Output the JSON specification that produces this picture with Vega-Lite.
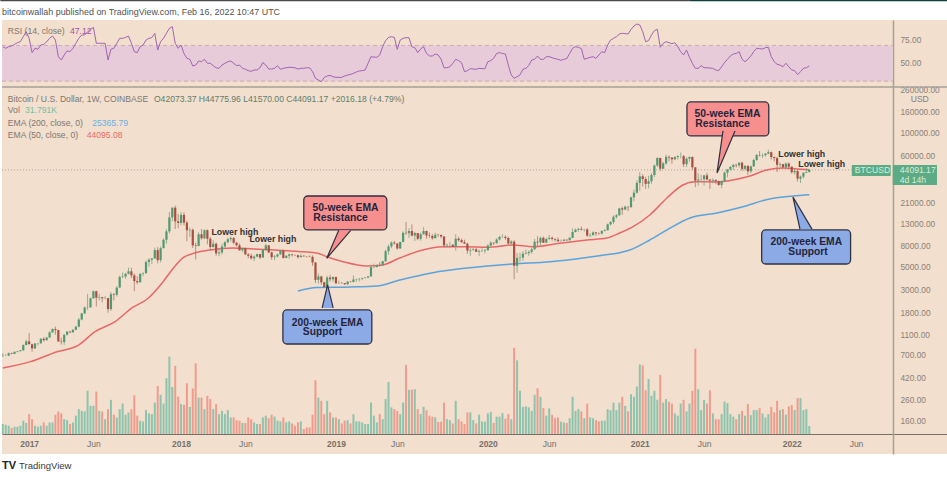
{
"$schema":"https://vega.github.io/schema/vega-lite/v6.json",
"width":945,"height":434,
"autosize":{"type":"none"},
"padding":{"left":2,"top":20,"right":0,"bottom":23},
"background":"#ffffff",
"view":{"fill":"#f2dfcd","stroke":null},
"config":{"font":"Liberation Sans","axis":{"grid":false,"ticks":false,"title":null}},
"datasets":{
"candles":[
{"d":"2016-10-31","o":700,"h":745,"l":680,"c":703,"v":40,"r":68.6},
{"d":"2016-11-07","o":703,"h":725,"l":695,"c":703,"v":37,"r":66.8},
{"d":"2016-11-14","o":703,"h":755,"l":695,"c":740,"v":33,"r":68.6},
{"d":"2016-11-21","o":740,"h":752,"l":725,"c":730,"v":24,"r":69.4},
{"d":"2016-11-28","o":730,"h":770,"l":725,"c":765,"v":29,"r":71.2},
{"d":"2016-12-05","o":765,"h":780,"l":755,"c":775,"v":29,"r":73.1},
{"d":"2016-12-12","o":775,"h":795,"l":770,"c":790,"v":33,"r":74.2},
{"d":"2016-12-19","o":790,"h":900,"l":785,"c":890,"v":53,"r":79.8},
{"d":"2016-12-26","o":890,"h":1000,"l":885,"c":965,"v":44,"r":85.4},
{"d":"2017-01-02","o":965,"h":1160,"l":950,"c":905,"v":79,"r":78},
{"d":"2017-01-09","o":905,"h":915,"l":765,"c":825,"v":59,"r":62},
{"d":"2017-01-16","o":825,"h":930,"l":820,"c":920,"v":33,"r":66.8},
{"d":"2017-01-23","o":920,"h":935,"l":880,"c":925,"v":29,"r":65.7},
{"d":"2017-01-30","o":925,"h":1040,"l":915,"c":1020,"v":33,"r":70.5},
{"d":"2017-02-06","o":1020,"h":1060,"l":960,"c":990,"v":46,"r":71.2},
{"d":"2017-02-13","o":990,"h":1065,"l":985,"c":1050,"v":33,"r":74},
{"d":"2017-02-20","o":1050,"h":1210,"l":1050,"c":1180,"v":46,"r":78},
{"d":"2017-02-27","o":1180,"h":1290,"l":1160,"c":1270,"v":46,"r":80.6},
{"d":"2017-03-06","o":1270,"h":1340,"l":1120,"c":1240,"v":77,"r":76},
{"d":"2017-03-13","o":1240,"h":1250,"l":1000,"c":960,"v":90,"r":57.4},
{"d":"2017-03-20","o":960,"h":1050,"l":900,"c":950,"v":82,"r":53.7},
{"d":"2017-03-27","o":950,"h":1125,"l":890,"c":1120,"v":59,"r":59.3},
{"d":"2017-04-03","o":1120,"h":1210,"l":1100,"c":1200,"v":55,"r":64},
{"d":"2017-04-10","o":1200,"h":1215,"l":1160,"c":1180,"v":40,"r":63},
{"d":"2017-04-17","o":1180,"h":1265,"l":1175,"c":1250,"v":46,"r":66.8},
{"d":"2017-04-24","o":1250,"h":1350,"l":1240,"c":1340,"v":73,"r":72.4},
{"d":"2017-05-01","o":1340,"h":1620,"l":1320,"c":1570,"v":99,"r":78},
{"d":"2017-05-08","o":1570,"h":1820,"l":1540,"c":1800,"v":92,"r":81.7},
{"d":"2017-05-15","o":1800,"h":2100,"l":1770,"c":2050,"v":90,"r":81.7},
{"d":"2017-05-22","o":2050,"h":2780,"l":1950,"c":2060,"v":172,"r":85.4},
{"d":"2017-05-29","o":2060,"h":2560,"l":2050,"c":2520,"v":112,"r":88},
{"d":"2017-06-05","o":2520,"h":3000,"l":2500,"c":2950,"v":112,"r":90.3},
{"d":"2017-06-12","o":2950,"h":2990,"l":2100,"c":2550,"v":169,"r":72.4},
{"d":"2017-06-19","o":2550,"h":2780,"l":2400,"c":2580,"v":92,"r":72.4},
{"d":"2017-06-26","o":2580,"h":2600,"l":2300,"c":2520,"v":90,"r":72.4},
{"d":"2017-07-03","o":2520,"h":2650,"l":2480,"c":2530,"v":59,"r":72.4},
{"d":"2017-07-10","o":2530,"h":2540,"l":1830,"c":1980,"v":99,"r":53.7},
{"d":"2017-07-17","o":1980,"h":2900,"l":1900,"c":2760,"v":136,"r":65.7},
{"d":"2017-07-24","o":2760,"h":2830,"l":2400,"c":2730,"v":77,"r":66.8},
{"d":"2017-07-31","o":2730,"h":3300,"l":2620,"c":3200,"v":66,"r":72.4},
{"d":"2017-08-07","o":3200,"h":4190,"l":3200,"c":4050,"v":99,"r":78},
{"d":"2017-08-14","o":4050,"h":4480,"l":3950,"c":4090,"v":121,"r":78},
{"d":"2017-08-21","o":4090,"h":4450,"l":3900,"c":4350,"v":77,"r":79},
{"d":"2017-08-28","o":4350,"h":5000,"l":4300,"c":4600,"v":86,"r":80.6},
{"d":"2017-09-04","o":4600,"h":4980,"l":3950,"c":4200,"v":99,"r":72.4},
{"d":"2017-09-11","o":4200,"h":4380,"l":2950,"c":3700,"v":154,"r":63},
{"d":"2017-09-18","o":3700,"h":4120,"l":3450,"c":3600,"v":73,"r":62},
{"d":"2017-09-25","o":3600,"h":4400,"l":3600,"c":4350,"v":53,"r":68.6},
{"d":"2017-10-02","o":4350,"h":4500,"l":4150,"c":4400,"v":50,"r":70.5},
{"d":"2017-10-09","o":4400,"h":5860,"l":4400,"c":5650,"v":95,"r":76},
{"d":"2017-10-16","o":5650,"h":6170,"l":5100,"c":5950,"v":82,"r":78},
{"d":"2017-10-23","o":5950,"h":6180,"l":5400,"c":6130,"v":79,"r":78.7},
{"d":"2017-10-30","o":6130,"h":7800,"l":6050,"c":7380,"v":125,"r":83.6},
{"d":"2017-11-06","o":7380,"h":7880,"l":5500,"c":5900,"v":191,"r":64.9},
{"d":"2017-11-13","o":5900,"h":8000,"l":5600,"c":7700,"v":156,"r":74.2},
{"d":"2017-11-20","o":7700,"h":9600,"l":7700,"c":9280,"v":121,"r":78},
{"d":"2017-11-27","o":9280,"h":11800,"l":8500,"c":11200,"v":222,"r":83.6},
{"d":"2017-12-04","o":11200,"h":17200,"l":10700,"c":15300,"v":308,"r":89.2},
{"d":"2017-12-11","o":15300,"h":19000,"l":14000,"c":19000,"v":187,"r":91},
{"d":"2017-12-18","o":19000,"h":19891,"l":11800,"c":14000,"v":271,"r":72.4},
{"d":"2017-12-25","o":14000,"h":16500,"l":12000,"c":13500,"v":149,"r":66.8},
{"d":"2018-01-01","o":13500,"h":17250,"l":12800,"c":16200,"v":119,"r":70.5},
{"d":"2018-01-08","o":16200,"h":17100,"l":12800,"c":13600,"v":116,"r":61},
{"d":"2018-01-15","o":13600,"h":14200,"l":9000,"c":11500,"v":202,"r":55.6},
{"d":"2018-01-22","o":11500,"h":12200,"l":9900,"c":11600,"v":108,"r":54.5},
{"d":"2018-01-29","o":11600,"h":11950,"l":7750,"c":8200,"v":181,"r":47},
{"d":"2018-02-05","o":8200,"h":8700,"l":6000,"c":8100,"v":281,"r":48},
{"d":"2018-02-12","o":8100,"h":11000,"l":8000,"c":10500,"v":145,"r":52.6},
{"d":"2018-02-19","o":10500,"h":11800,"l":9300,"c":9600,"v":145,"r":51.8},
{"d":"2018-02-26","o":9600,"h":11700,"l":9400,"c":11500,"v":99,"r":54.5},
{"d":"2018-03-05","o":11500,"h":11700,"l":8400,"c":9500,"v":152,"r":50},
{"d":"2018-03-12","o":9500,"h":9900,"l":7300,"c":7900,"v":139,"r":50},
{"d":"2018-03-19","o":7900,"h":9200,"l":7800,"c":8500,"v":99,"r":47.4},
{"d":"2018-03-26","o":8500,"h":8750,"l":6500,"c":6850,"v":119,"r":45},
{"d":"2018-04-02","o":6850,"h":7750,"l":6430,"c":7000,"v":79,"r":44.4},
{"d":"2018-04-09","o":7000,"h":8500,"l":6700,"c":8000,"v":92,"r":48},
{"d":"2018-04-16","o":8000,"h":9000,"l":7800,"c":8800,"v":79,"r":50},
{"d":"2018-04-23","o":8800,"h":9750,"l":8600,"c":9400,"v":95,"r":51.8},
{"d":"2018-04-30","o":9400,"h":9990,"l":8900,"c":9650,"v":66,"r":52.6},
{"d":"2018-05-07","o":9650,"h":9900,"l":8400,"c":8700,"v":66,"r":50},
{"d":"2018-05-14","o":8700,"h":8850,"l":8000,"c":8200,"v":55,"r":47.4},
{"d":"2018-05-21","o":8200,"h":8550,"l":7300,"c":7350,"v":53,"r":48},
{"d":"2018-05-28","o":7350,"h":7800,"l":7050,"c":7700,"v":44,"r":44.4},
{"d":"2018-06-04","o":7700,"h":7750,"l":6600,"c":6700,"v":44,"r":43.3},
{"d":"2018-06-11","o":6700,"h":6900,"l":6150,"c":6500,"v":66,"r":41.8},
{"d":"2018-06-18","o":6500,"h":6820,"l":5950,"c":6150,"v":59,"r":41},
{"d":"2018-06-25","o":6150,"h":6550,"l":5780,"c":6380,"v":46,"r":42.5},
{"d":"2018-07-02","o":6380,"h":6800,"l":6300,"c":6750,"v":40,"r":42.5},
{"d":"2018-07-09","o":6750,"h":6800,"l":6050,"c":6250,"v":40,"r":45},
{"d":"2018-07-16","o":6250,"h":7500,"l":6200,"c":7400,"v":66,"r":50.7},
{"d":"2018-07-23","o":7400,"h":8500,"l":7300,"c":8200,"v":73,"r":48},
{"d":"2018-07-30","o":8200,"h":8280,"l":6900,"c":7000,"v":63,"r":43.6},
{"d":"2018-08-06","o":7000,"h":7150,"l":5950,"c":6300,"v":77,"r":43.6},
{"d":"2018-08-13","o":6300,"h":6600,"l":5900,"c":6400,"v":69,"r":44.4},
{"d":"2018-08-20","o":6400,"h":6800,"l":6250,"c":6700,"v":53,"r":47.4},
{"d":"2018-08-27","o":6700,"h":7400,"l":6650,"c":7300,"v":50,"r":43.3},
{"d":"2018-09-03","o":7300,"h":7420,"l":6100,"c":6200,"v":66,"r":44.4},
{"d":"2018-09-10","o":6200,"h":6600,"l":6150,"c":6500,"v":46,"r":45},
{"d":"2018-09-17","o":6500,"h":6850,"l":6100,"c":6700,"v":50,"r":45.5},
{"d":"2018-09-24","o":6700,"h":6800,"l":6400,"c":6600,"v":42,"r":45.5},
{"d":"2018-10-01","o":6600,"h":6680,"l":6450,"c":6580,"v":33,"r":45},
{"d":"2018-10-08","o":6580,"h":6680,"l":6100,"c":6300,"v":46,"r":43.6},
{"d":"2018-10-15","o":6300,"h":6780,"l":6300,"c":6500,"v":50,"r":44.4},
{"d":"2018-10-22","o":6500,"h":6600,"l":6400,"c":6420,"v":20,"r":44.4},
{"d":"2018-10-29","o":6420,"h":6480,"l":6250,"c":6400,"v":26,"r":45},
{"d":"2018-11-05","o":6400,"h":6550,"l":6300,"c":6350,"v":26,"r":45},
{"d":"2018-11-12","o":6350,"h":6560,"l":5200,"c":5600,"v":77,"r":40.6},
{"d":"2018-11-19","o":5600,"h":5650,"l":3550,"c":3800,"v":214,"r":33.2},
{"d":"2018-11-26","o":3800,"h":4380,"l":3480,"c":4100,"v":145,"r":31.3},
{"d":"2018-12-03","o":4100,"h":4150,"l":3400,"c":3600,"v":132,"r":29.4},
{"d":"2018-12-10","o":3600,"h":3650,"l":3230,"c":3230,"v":79,"r":34.3},
{"d":"2018-12-17","o":3230,"h":4150,"l":3230,"c":4000,"v":132,"r":35.8},
{"d":"2018-12-24","o":4000,"h":4250,"l":3650,"c":3850,"v":86,"r":36.5},
{"d":"2018-12-31","o":3850,"h":4100,"l":3650,"c":4050,"v":66,"r":35},
{"d":"2019-01-07","o":4050,"h":4100,"l":3450,"c":3530,"v":66,"r":34.3},
{"d":"2019-01-14","o":3530,"h":3730,"l":3480,"c":3550,"v":59,"r":34.3},
{"d":"2019-01-21","o":3550,"h":3620,"l":3500,"c":3530,"v":42,"r":34.3},
{"d":"2019-01-28","o":3530,"h":3550,"l":3380,"c":3450,"v":53,"r":35.8},
{"d":"2019-02-04","o":3450,"h":3700,"l":3380,"c":3650,"v":55,"r":36.9},
{"d":"2019-02-11","o":3650,"h":3700,"l":3580,"c":3620,"v":42,"r":37.6},
{"d":"2019-02-18","o":3620,"h":4200,"l":3600,"c":3830,"v":79,"r":38.8},
{"d":"2019-02-25","o":3830,"h":3900,"l":3650,"c":3860,"v":50,"r":40.3},
{"d":"2019-03-04","o":3860,"h":3950,"l":3670,"c":3900,"v":50,"r":41.4},
{"d":"2019-03-11","o":3900,"h":4000,"l":3770,"c":3950,"v":46,"r":41.8},
{"d":"2019-03-18","o":3950,"h":4050,"l":3950,"c":4000,"v":40,"r":42.5},
{"d":"2019-03-25","o":4000,"h":4150,"l":3950,"c":4100,"v":40,"r":50},
{"d":"2019-04-01","o":4100,"h":5350,"l":4100,"c":5050,"v":125,"r":57.4},
{"d":"2019-04-08","o":5050,"h":5450,"l":4950,"c":5060,"v":73,"r":57},
{"d":"2019-04-15","o":5060,"h":5350,"l":5020,"c":5270,"v":46,"r":56.7},
{"d":"2019-04-22","o":5270,"h":5650,"l":5100,"c":5260,"v":79,"r":59.3},
{"d":"2019-04-29","o":5260,"h":5800,"l":5200,"c":5760,"v":59,"r":68.6},
{"d":"2019-05-06","o":5760,"h":7450,"l":5670,"c":7200,"v":139,"r":75.4},
{"d":"2019-05-13","o":7200,"h":8350,"l":6650,"c":8000,"v":207,"r":79},
{"d":"2019-05-20","o":8000,"h":8950,"l":7700,"c":8720,"v":106,"r":79.8},
{"d":"2019-05-27","o":8720,"h":9050,"l":8350,"c":8550,"v":99,"r":79},
{"d":"2019-06-03","o":8550,"h":8600,"l":7450,"c":7650,"v":92,"r":65.7},
{"d":"2019-06-10","o":7650,"h":8900,"l":7600,"c":8850,"v":79,"r":76},
{"d":"2019-06-17","o":8850,"h":11200,"l":8800,"c":10850,"v":125,"r":78},
{"d":"2019-06-24","o":10850,"h":13800,"l":10350,"c":10750,"v":275,"r":78.7},
{"d":"2019-07-01","o":10750,"h":12000,"l":9700,"c":11300,"v":176,"r":78.7},
{"d":"2019-07-08","o":11300,"h":13100,"l":10000,"c":10200,"v":176,"r":68.6},
{"d":"2019-07-15","o":10200,"h":11100,"l":9050,"c":10800,"v":178,"r":67.5},
{"d":"2019-07-22","o":10800,"h":10800,"l":9200,"c":9500,"v":99,"r":62},
{"d":"2019-07-29","o":9500,"h":10900,"l":9100,"c":10500,"v":79,"r":66},
{"d":"2019-08-05","o":10500,"h":12300,"l":10450,"c":11300,"v":108,"r":68.6},
{"d":"2019-08-12","o":11300,"h":11400,"l":9500,"c":10200,"v":95,"r":61},
{"d":"2019-08-19","o":10200,"h":10950,"l":9700,"c":10100,"v":73,"r":58.2},
{"d":"2019-08-26","o":10100,"h":10620,"l":9300,"c":9600,"v":69,"r":58.2},
{"d":"2019-09-02","o":9600,"h":10900,"l":9600,"c":10400,"v":66,"r":60.4},
{"d":"2019-09-09","o":10400,"h":10600,"l":9900,"c":10350,"v":48,"r":59.3},
{"d":"2019-09-16","o":10350,"h":10400,"l":9600,"c":10000,"v":49,"r":54.5},
{"d":"2019-09-23","o":10000,"h":10050,"l":7800,"c":8200,"v":125,"r":45},
{"d":"2019-09-30","o":8200,"h":8500,"l":7800,"c":8300,"v":59,"r":45},
{"d":"2019-10-07","o":8300,"h":8850,"l":7800,"c":8300,"v":55,"r":46.2},
{"d":"2019-10-14","o":8300,"h":8450,"l":7900,"c":7950,"v":42,"r":50},
{"d":"2019-10-21","o":7950,"h":10500,"l":7300,"c":9500,"v":132,"r":54.5},
{"d":"2019-10-28","o":9500,"h":9950,"l":8900,"c":9200,"v":59,"r":53},
{"d":"2019-11-04","o":9200,"h":9550,"l":8700,"c":8800,"v":50,"r":50.7},
{"d":"2019-11-11","o":8800,"h":9300,"l":8500,"c":8500,"v":40,"r":40.6},
{"d":"2019-11-18","o":8500,"h":8700,"l":6800,"c":7300,"v":86,"r":41.8},
{"d":"2019-11-25","o":7300,"h":7800,"l":6500,"c":7400,"v":86,"r":44},
{"d":"2019-12-02","o":7400,"h":7750,"l":7250,"c":7500,"v":55,"r":43.6},
{"d":"2019-12-09","o":7500,"h":7750,"l":7100,"c":7100,"v":42,"r":43.3},
{"d":"2019-12-16","o":7100,"h":7500,"l":6450,"c":7200,"v":77,"r":44.4},
{"d":"2019-12-23","o":7200,"h":7700,"l":7100,"c":7250,"v":50,"r":44},
{"d":"2019-12-30","o":7250,"h":7550,"l":6850,"c":7350,"v":49,"r":44},
{"d":"2020-01-06","o":7350,"h":8400,"l":7300,"c":8150,"v":82,"r":51.8},
{"d":"2020-01-13","o":8150,"h":9000,"l":8100,"c":8700,"v":88,"r":53},
{"d":"2020-01-20","o":8700,"h":8800,"l":8250,"c":8600,"v":44,"r":55.6},
{"d":"2020-01-27","o":8600,"h":9600,"l":8550,"c":9350,"v":69,"r":61},
{"d":"2020-02-03","o":9350,"h":10150,"l":9150,"c":9900,"v":69,"r":62},
{"d":"2020-02-10","o":9900,"h":10500,"l":9700,"c":9900,"v":83,"r":61},
{"d":"2020-02-17","o":9900,"h":10250,"l":9300,"c":9660,"v":61,"r":60.4},
{"d":"2020-02-24","o":9660,"h":9950,"l":8400,"c":8550,"v":79,"r":48},
{"d":"2020-03-02","o":8550,"h":9200,"l":8400,"c":8900,"v":59,"r":37},
{"d":"2020-03-09","o":8900,"h":9200,"l":3850,"c":5200,"v":343,"r":33.2},
{"d":"2020-03-16","o":5200,"h":6900,"l":4450,"c":6200,"v":293,"r":35},
{"d":"2020-03-23","o":6200,"h":6950,"l":5700,"c":6250,"v":172,"r":37},
{"d":"2020-03-30","o":6250,"h":7200,"l":5850,"c":6800,"v":108,"r":43.3},
{"d":"2020-04-06","o":6800,"h":7480,"l":6750,"c":6900,"v":110,"r":44.4},
{"d":"2020-04-13","o":6900,"h":7300,"l":6500,"c":7100,"v":106,"r":47.4},
{"d":"2020-04-20","o":7100,"h":7750,"l":6800,"c":7500,"v":92,"r":53.7},
{"d":"2020-04-27","o":7500,"h":9450,"l":7450,"c":8900,"v":156,"r":54.5},
{"d":"2020-05-04","o":8900,"h":10050,"l":8100,"c":8750,"v":182,"r":58.2},
{"d":"2020-05-11","o":8750,"h":9950,"l":8200,"c":9700,"v":148,"r":54.5},
{"d":"2020-05-18","o":9700,"h":10000,"l":8700,"c":8700,"v":103,"r":54.5},
{"d":"2020-05-25","o":8700,"h":9740,"l":8650,"c":9450,"v":73,"r":57.4},
{"d":"2020-06-01","o":9450,"h":10350,"l":9300,"c":9700,"v":102,"r":57.4},
{"d":"2020-06-08","o":9700,"h":10000,"l":9100,"c":9450,"v":77,"r":56.3},
{"d":"2020-06-15","o":9450,"h":9600,"l":8950,"c":9300,"v":63,"r":55.2},
{"d":"2020-06-22","o":9300,"h":9800,"l":8850,"c":9000,"v":66,"r":54.5},
{"d":"2020-06-29","o":9000,"h":9350,"l":8900,"c":9050,"v":49,"r":53.3},
{"d":"2020-07-06","o":9050,"h":9450,"l":9000,"c":9300,"v":46,"r":54.5},
{"d":"2020-07-13","o":9300,"h":9350,"l":9000,"c":9200,"v":44,"r":55.2},
{"d":"2020-07-20","o":9200,"h":9900,"l":9100,"c":9700,"v":63,"r":61},
{"d":"2020-07-27","o":9700,"h":12000,"l":9650,"c":11050,"v":148,"r":66.8},
{"d":"2020-08-03","o":11050,"h":11900,"l":10950,"c":11600,"v":92,"r":68.6},
{"d":"2020-08-10","o":11600,"h":12100,"l":11150,"c":11850,"v":99,"r":67.9},
{"d":"2020-08-17","o":11850,"h":12450,"l":11400,"c":11650,"v":90,"r":66.4},
{"d":"2020-08-24","o":11650,"h":11800,"l":11150,"c":11700,"v":63,"r":54.5},
{"d":"2020-08-31","o":11700,"h":12050,"l":9900,"c":10200,"v":121,"r":55.6},
{"d":"2020-09-07","o":10200,"h":10800,"l":9850,"c":10300,"v":66,"r":56.7},
{"d":"2020-09-14","o":10300,"h":11200,"l":10200,"c":10950,"v":63,"r":57.4},
{"d":"2020-09-21","o":10950,"h":11000,"l":10150,"c":10700,"v":55,"r":55.6},
{"d":"2020-09-28","o":10700,"h":10950,"l":10350,"c":10650,"v":50,"r":59.3},
{"d":"2020-10-05","o":10650,"h":11500,"l":10500,"c":11300,"v":53,"r":63},
{"d":"2020-10-12","o":11300,"h":11750,"l":11200,"c":11500,"v":53,"r":62},
{"d":"2020-10-19","o":11500,"h":13300,"l":11400,"c":13100,"v":99,"r":70.5},
{"d":"2020-10-26","o":13100,"h":14100,"l":12800,"c":13800,"v":95,"r":76},
{"d":"2020-11-02","o":13800,"h":16000,"l":13200,"c":15500,"v":125,"r":78},
{"d":"2020-11-09","o":15500,"h":16500,"l":14850,"c":16050,"v":95,"r":79.8},
{"d":"2020-11-16","o":16050,"h":18950,"l":15800,"c":18700,"v":125,"r":82.8},
{"d":"2020-11-23","o":18700,"h":19450,"l":16200,"c":18200,"v":148,"r":83.6},
{"d":"2020-11-30","o":18200,"h":19900,"l":18100,"c":19400,"v":112,"r":83.2},
{"d":"2020-12-07","o":19400,"h":19450,"l":17600,"c":19200,"v":90,"r":82.8},
{"d":"2020-12-14","o":19200,"h":24300,"l":19000,"c":23900,"v":158,"r":88},
{"d":"2020-12-21","o":23900,"h":28400,"l":21900,"c":26500,"v":148,"r":91.8},
{"d":"2020-12-28","o":26500,"h":34800,"l":26000,"c":33000,"v":189,"r":94},
{"d":"2021-01-04","o":33000,"h":41990,"l":27700,"c":38200,"v":277,"r":92.9},
{"d":"2021-01-11","o":38200,"h":40100,"l":30400,"c":36000,"v":273,"r":85.4},
{"d":"2021-01-18","o":36000,"h":37800,"l":28800,"c":32300,"v":174,"r":74.2},
{"d":"2021-01-25","o":32300,"h":38600,"l":29250,"c":34300,"v":219,"r":75.4},
{"d":"2021-02-01","o":34300,"h":40950,"l":32300,"c":39300,"v":152,"r":81.7},
{"d":"2021-02-08","o":39300,"h":49700,"l":37700,"c":48600,"v":172,"r":86.6},
{"d":"2021-02-15","o":48600,"h":58350,"l":47000,"c":57500,"v":136,"r":88},
{"d":"2021-02-22","o":57500,"h":58000,"l":43000,"c":45300,"v":235,"r":67.9},
{"d":"2021-03-01","o":45300,"h":52650,"l":44950,"c":51000,"v":125,"r":72.4},
{"d":"2021-03-08","o":51000,"h":61800,"l":49300,"c":59000,"v":139,"r":74.2},
{"d":"2021-03-15","o":59000,"h":61000,"l":53300,"c":58000,"v":128,"r":73.1},
{"d":"2021-03-22","o":58000,"h":58400,"l":50500,"c":55800,"v":121,"r":72},
{"d":"2021-03-29","o":55800,"h":59800,"l":54700,"c":58800,"v":82,"r":73.1},
{"d":"2021-04-05","o":58800,"h":61300,"l":55500,"c":60000,"v":73,"r":68.6},
{"d":"2021-04-12","o":60000,"h":64850,"l":57000,"c":60000,"v":121,"r":63},
{"d":"2021-04-19","o":60000,"h":61500,"l":47000,"c":50000,"v":136,"r":59.3},
{"d":"2021-04-26","o":50000,"h":58450,"l":46900,"c":56600,"v":90,"r":64.9},
{"d":"2021-05-03","o":56600,"h":59500,"l":52900,"c":58800,"v":121,"r":56.7},
{"d":"2021-05-10","o":58800,"h":59600,"l":43800,"c":46700,"v":172,"r":50},
{"d":"2021-05-17","o":46700,"h":46700,"l":30000,"c":34700,"v":339,"r":44.4},
{"d":"2021-05-24","o":34700,"h":40800,"l":31100,"c":35600,"v":178,"r":44.4},
{"d":"2021-05-31","o":35600,"h":39500,"l":33400,"c":35800,"v":95,"r":47.4},
{"d":"2021-06-07","o":35800,"h":39400,"l":31000,"c":39000,"v":135,"r":45},
{"d":"2021-06-14","o":39000,"h":41300,"l":34800,"c":35600,"v":121,"r":45},
{"d":"2021-06-21","o":35600,"h":35700,"l":28800,"c":34700,"v":174,"r":44.7},
{"d":"2021-06-28","o":34700,"h":36600,"l":32700,"c":35300,"v":82,"r":44.4},
{"d":"2021-07-05","o":35300,"h":35500,"l":32100,"c":34200,"v":59,"r":42.5},
{"d":"2021-07-12","o":34200,"h":34700,"l":31000,"c":31500,"v":59,"r":41.8},
{"d":"2021-07-19","o":31500,"h":34800,"l":29300,"c":34300,"v":79,"r":46.2},
{"d":"2021-07-26","o":34300,"h":42600,"l":34000,"c":41500,"v":129,"r":50.7},
{"d":"2021-08-02","o":41500,"h":44700,"l":37350,"c":44600,"v":123,"r":54.5},
{"d":"2021-08-09","o":44600,"h":48150,"l":43400,"c":47000,"v":79,"r":58.2},
{"d":"2021-08-16","o":47000,"h":50500,"l":43950,"c":49300,"v":69,"r":60.4},
{"d":"2021-08-23","o":49300,"h":50500,"l":46400,"c":48800,"v":59,"r":61},
{"d":"2021-08-30","o":48800,"h":52000,"l":46600,"c":51750,"v":79,"r":63},
{"d":"2021-09-06","o":51750,"h":52950,"l":42850,"c":45100,"v":92,"r":54.5},
{"d":"2021-09-13","o":45100,"h":48850,"l":43400,"c":48300,"v":73,"r":51.8},
{"d":"2021-09-20","o":48300,"h":48400,"l":39600,"c":42700,"v":119,"r":54.5},
{"d":"2021-09-27","o":42700,"h":48500,"l":40800,"c":47700,"v":75,"r":58.2},
{"d":"2021-10-04","o":47700,"h":56500,"l":47100,"c":55000,"v":95,"r":63},
{"d":"2021-10-11","o":55000,"h":62950,"l":53900,"c":61500,"v":95,"r":66.8},
{"d":"2021-10-18","o":61500,"h":67000,"l":59500,"c":60900,"v":103,"r":66.4},
{"d":"2021-10-25","o":60900,"h":63700,"l":57700,"c":61300,"v":82,"r":66},
{"d":"2021-11-01","o":61300,"h":64300,"l":59400,"c":63300,"v":66,"r":67.5},
{"d":"2021-11-08","o":63300,"h":69000,"l":62300,"c":65500,"v":79,"r":67.9},
{"d":"2021-11-15","o":65500,"h":66300,"l":55700,"c":58650,"v":108,"r":57.4},
{"d":"2021-11-22","o":58650,"h":59500,"l":53250,"c":57300,"v":86,"r":51.8},
{"d":"2021-11-29","o":57300,"h":59100,"l":42000,"c":49400,"v":132,"r":48.9},
{"d":"2021-12-06","o":49400,"h":51950,"l":46900,"c":50100,"v":95,"r":48},
{"d":"2021-12-13","o":50100,"h":50100,"l":45500,"c":46700,"v":99,"r":46.2},
{"d":"2021-12-20","o":46700,"h":51900,"l":45600,"c":50800,"v":77,"r":50},
{"d":"2021-12-27","o":50800,"h":52100,"l":45700,"c":47300,"v":110,"r":46.2},
{"d":"2022-01-03","o":47300,"h":47600,"l":40500,"c":41800,"v":115,"r":42.5},
{"d":"2022-01-10","o":41800,"h":44450,"l":39600,"c":43100,"v":95,"r":41.8},
{"d":"2022-01-17","o":43100,"h":43500,"l":34000,"c":36300,"v":143,"r":37.3},
{"d":"2022-01-24","o":36300,"h":38900,"l":32900,"c":37900,"v":143,"r":40.6},
{"d":"2022-01-31","o":37900,"h":41500,"l":36300,"c":41400,"v":95,"r":44.4},
{"d":"2022-02-07","o":41400,"h":45850,"l":41100,"c":42073,"v":99,"r":45},
{"d":"2022-02-14","o":42073.37,"h":44775.96,"l":41570,"c":44091.17,"v":31.791,"r":47.12}
],
"ema50":[
{"d":"2016-10-31","p":533},{"d":"2017-01-05","p":614},{"d":"2017-03-10","p":767},{"d":"2017-04-27","p":871},{"d":"2017-06-09","p":1198},{"d":"2017-07-27","p":1496},{"d":"2017-09-06","p":2045},{"d":"2017-10-12","p":2480},{"d":"2017-11-19","p":3650},{"d":"2017-12-10","p":4737},{"d":"2018-01-06","p":6232},{"d":"2018-02-03","p":6920},{"d":"2018-03-11","p":7395},{"d":"2018-05-05","p":7735},{"d":"2018-06-22","p":7566},{"d":"2018-09-12","p":7280},{"d":"2018-11-22","p":6920},{"d":"2018-12-16","p":6370},{"d":"2019-01-24","p":5700},{"d":"2019-03-22","p":5180},{"d":"2019-04-29","p":5300},{"d":"2019-06-09","p":6190},{"d":"2019-07-27","p":7280},{"d":"2019-09-20","p":7965},{"d":"2019-11-17","p":7965},{"d":"2020-01-04","p":7856},{"d":"2020-03-06","p":8270},{"d":"2020-04-23","p":7965},{"d":"2020-06-26","p":8590},{"d":"2020-08-30","p":9245},{"d":"2020-10-17","p":9665},{"d":"2020-11-17","p":10805},{"d":"2020-12-19","p":12437},{"d":"2021-01-28","p":16140},{"d":"2021-03-10","p":23570},{"d":"2021-04-17","p":31500},{"d":"2021-05-16","p":33900},{"d":"2021-07-08","p":33700},{"d":"2021-08-15","p":35200},{"d":"2021-09-25","p":38500},{"d":"2021-11-04","p":44000},{"d":"2021-12-13","p":46000},{"d":"2022-01-15","p":45000},{"d":"2022-02-14","p":44095.08}
],
"ema200":[
{"d":"2018-10-08","p":2967},{"d":"2018-11-22","p":3208},{"d":"2019-02-10","p":3245},{"d":"2019-04-15","p":3315},{"d":"2019-06-09","p":3790},{"d":"2019-08-27","p":4460},{"d":"2019-11-17","p":4950},{"d":"2020-03-06","p":5412},{"d":"2020-06-03","p":5700},{"d":"2020-08-21","p":6190},{"d":"2020-09-30","p":6520},{"d":"2020-11-17","p":6965},{"d":"2020-12-11","p":7395},{"d":"2021-01-28","p":9245},{"d":"2021-03-10","p":11556},{"d":"2021-05-04","p":15100},{"d":"2021-07-08","p":16880},{"d":"2021-09-08","p":19420},{"d":"2021-11-11","p":23070},{"d":"2022-01-06","p":24650},{"d":"2022-02-14","p":25365.79}
],
"boxes":[
{"d":"2018-10-22","d2":"2019-05-09","p":24650,"p2":11556,"kind":"res"},
{"d":"2018-09-02","d2":"2019-04-03","p":1943,"p2":910,"kind":"sup"},
{"d":"2021-04-27","d2":"2021-11-09","p":200500,"p2":93950,"kind":"res"},
{"d":"2021-10-23","d2":"2022-05-24","p":11556,"p2":5412,"kind":"sup"}
],
"notes":[
{"d":"2018-05-10","p":11050,"t":"Lower high","kind":"small"},
{"d":"2018-08-09","p":9350,"t":"Lower high","kind":"small"},
{"d":"2022-01-27","p":62800,"t":"Lower high","kind":"small"},
{"d":"2022-03-16","p":50300,"t":"Lower high","kind":"small"},
{"d":"2019-01-30","p":18860,"t":"50-week EMA","kind":"big"},
{"d":"2019-01-18","p":15100,"t":"Resistance","kind":"big"},
{"d":"2018-12-18","p":1464,"t":"200-week EMA","kind":"big"},
{"d":"2018-12-06","p":1176,"t":"Support","kind":"big"},
{"d":"2021-08-02","p":153400,"t":"50-week EMA","kind":"big"},
{"d":"2021-07-21","p":122700,"t":"Resistance","kind":"big"},
{"d":"2022-02-07","p":8840,"t":"200-week EMA","kind":"big"},
{"d":"2022-02-11","p":7075,"t":"Support","kind":"big"}
],
"info":[
{"d":"2016-10-29","p":1489800,"t":"bitcoinwallah published on TradingView.com, Feb 16, 2022 10:47 UTC","kind":"head"},
{"d":"2016-11-12","p":975000,"t":"RSI (14, close)","kind":"label"},
{"d":"2017-04-10","p":975000,"t":"47.12","kind":"purple"},
{"d":"2016-11-12","p":214200,"t":"Bitcoin / U.S. Dollar, 1W, COINBASE","kind":"label"},
{"d":"2017-10-28","p":214200,"t":"O42073.37 H44775.96 L41570.00 C44091.17 +2016.18 (+4.79%)","kind":"ohlc"},
{"d":"2016-11-12","p":167700,"t":"Vol","kind":"label"},
{"d":"2016-12-23","p":167700,"t":"31.791K","kind":"green"},
{"d":"2016-11-12","p":126400,"t":"EMA (200, close, 0)","kind":"label"},
{"d":"2017-06-02","p":126400,"t":"25365.79","kind":"blue"},
{"d":"2016-11-12","p":96000,"t":"EMA (50, close, 0)","kind":"label"},
{"d":"2017-05-20","p":96000,"t":"44095.08","kind":"red"},
{"d":"2022-10-15","p":214200,"t":"USD","kind":"axis"},
{"d":"2022-06-03","p":44091,"t":"BTCUSD","kind":"tag"},
{"d":"2022-09-19","p":44091,"t":"44091.17","kind":"tag"},
{"d":"2022-09-19","p":35200,"t":"4d 14h","kind":"tag"}
],
"tags":[
{"d":"2022-05-27","d2":"2022-08-28","p":49200,"p2":38500},
{"d":"2022-09-02","d2":"2022-12-17","p":49200,"p2":31500}
],
"rules":[
{"d":"2016-10-25","d2":"2021-05-04","p":1925000,"kind":"top"},
{"d":"2021-05-04","d2":"2023-01-10","p":1925000,"kind":"topgreen"},
{"d":"2016-10-29","d2":"2023-01-10","p":280000,"kind":"pane"}
]
},
"encoding":{
"x":{"field":"d","type":"temporal","scale":{"domain":["2016-10-29","2023-01-10"],"nice":false,"padding":0},
"axis":{"offset":-20,"domain":true,"domainColor":"#77706a","domainWidth":1,"labelPadding":5,"labelFontSize":8.5,"labelColor":"#77706a","labelFlush":false,"labelOverlap":false,
"values":["2017-01-02","2017-06-05","2018-01-01","2018-06-04","2019-01-07","2019-06-03","2020-01-06","2020-06-01","2021-01-04","2021-06-07","2022-01-03","2022-06-06"],
"labelExpr":"month(datum.value)==0 ? timeFormat(datum.value,'%Y') : 'Jun'",
"labelFontWeight":{"condition":{"test":"month(datum.value)==0","value":"bold"},"value":"normal"}}}
},
"layer":[
{"data":{"values":[{"d":"2016-10-29","d2":"2022-09-02","lo":30,"hi":70}]},
"mark":{"type":"rect","color":"#e8cbd8"},
"encoding":{"x2":{"field":"d2"},"y":{"field":"hi","type":"quantitative","scale":{"domain":[-387.5,98.5]},"axis":null},"y2":{"field":"lo"}}},
{"data":{"values":[{"d":"2016-10-29","d2":"2022-09-02","r":70},{"d":"2016-10-29","d2":"2022-09-02","r":30}]},
"mark":{"type":"rule","color":"#bfa3ad","strokeDash":[4,3],"strokeWidth":0.8},
"encoding":{"x2":{"field":"d2"},"y":{"field":"r","type":"quantitative","scale":{"domain":[-387.5,98.5]},"axis":null}}},
{"data":{"name":"candles"},
"mark":{"type":"line","color":"#a064b4","strokeWidth":1},
"encoding":{"y":{"field":"r","type":"quantitative","scale":{"domain":[-387.5,98.5]},
"axis":{"orient":"right","offset":-54,"domain":false,"values":[50,75],"format":".2f","labelColor":"#8a8078","labelFontSize":8.3,"labelPadding":7}}}},
{"data":{"name":"candles"},
"mark":{"type":"bar","size":2},
"encoding":{"y":{"field":"v","type":"quantitative","scale":{"domain":[-79.5,1647]},"axis":null},"y2":{"datum":0},
"color":{"condition":{"test":"datum.c>=datum.o","value":"#8cc4ae"},"value":"#ef9c8e"}}},
{"data":{"name":"rules"},
"mark":{"type":"rule","strokeWidth":1.6},
"encoding":{"x2":{"field":"d2"},"y":{"field":"p","type":"quantitative","scale":{"type":"log","domain":[78.4,1245000]},"axis":null},
"color":{"field":"kind","type":"nominal","scale":{"domain":["top","topgreen","pane"],"range":["#4a4a4a","#0f3d38","#a8a097"]},"legend":null}}},
{"data":{"values":[{"d":"2016-10-29","d2":"2022-09-02","p":44091}]},
"mark":{"type":"rule","color":"#9d9489","strokeDash":[1,2],"strokeWidth":0.8},
"encoding":{"x2":{"field":"d2"},"y":{"field":"p","type":"quantitative","scale":{"type":"log","domain":[78.4,1245000]},"axis":null}}},
{"data":{"name":"ema50"},
"mark":{"type":"line","color":"#e8686a","strokeWidth":1.5,"interpolate":"monotone"},
"encoding":{"y":{"field":"p","type":"quantitative","scale":{"type":"log","domain":[78.4,1245000]},"axis":null}}},
{"data":{"name":"ema200"},
"mark":{"type":"line","color":"#5ba3dc","strokeWidth":1.5,"interpolate":"monotone"},
"encoding":{"y":{"field":"p","type":"quantitative","scale":{"type":"log","domain":[78.4,1245000]},"axis":null}}},
{"data":{"name":"candles"},
"mark":{"type":"rule","strokeWidth":0.8},
"encoding":{"y":{"field":"l","type":"quantitative","scale":{"type":"log","domain":[78.4,1245000]},
"axis":{"orient":"right","offset":-54,"domain":true,"domainColor":"#a8a097","domainWidth":1.5,"format":".2f","labelColor":"#8a8078","labelFontSize":8.3,"labelPadding":7,"labelOverlap":false,
"values":[260000,160000,100000,60000,21000,13000,8000,5000,3000,1800,1100,700,420,260,160]}},"y2":{"field":"h"},
"color":{"condition":{"test":"datum.c>=datum.o","value":"#7f9f86"},"value":"#a9776b"}}},
{"data":{"name":"candles"},
"mark":{"type":"bar","size":2.2},
"encoding":{"y":{"field":"o","type":"quantitative","scale":{"type":"log","domain":[78.4,1245000]},"axis":null},"y2":{"field":"c"},
"color":{"condition":{"test":"datum.c>=datum.o","value":"#4f9a72"},"value":"#a84f40"}}},
{"data":{"name":"boxes"},
"mark":{"type":"rect","cornerRadius":4,"stroke":"#2f3040","strokeWidth":1.3},
"encoding":{"x2":{"field":"d2"},"y":{"field":"p","type":"quantitative","scale":{"type":"log","domain":[78.4,1245000]},"axis":null},"y2":{"field":"p2"},
"fill":{"field":"kind","type":"nominal","scale":{"domain":["res","sup"],"range":["#f78f8e","#8caae6"]},"legend":null}}},
{"data":{"values":[{"d":"2018-12-16","p":6150}]},
"mark":{"type":"point","shape":"M0.6 -1.4 L0 0 L1.2 -1.4","size":1600,"filled":true,"fill":"#f78f8e","stroke":"#2f3040","strokeWidth":1.2,"opacity":1},
"encoding":{"y":{"field":"p","type":"quantitative","scale":{"type":"log","domain":[78.4,1245000]},"axis":null}}},
{"data":{"values":[{"d":"2018-12-18","p":3395}]},
"mark":{"type":"point","shape":"M-0.27 1.15 L0 0 L0.28 1.15","size":1600,"filled":true,"fill":"#8caae6","stroke":"#2f3040","strokeWidth":1.2,"opacity":1},
"encoding":{"y":{"field":"p","type":"quantitative","scale":{"type":"log","domain":[78.4,1245000]},"axis":null}}},
{"data":{"values":[{"d":"2021-07-08","p":41200}]},
"mark":{"type":"point","shape":"M0.3 -2.1 L0 0 L0.9 -2.1","size":1600,"filled":true,"fill":"#f78f8e","stroke":"#2f3040","strokeWidth":1.2,"opacity":1},
"encoding":{"y":{"field":"p","type":"quantitative","scale":{"type":"log","domain":[78.4,1245000]},"axis":null}}},
{"data":{"values":[{"d":"2022-01-06","p":24000}]},
"mark":{"type":"point","shape":"M0.35 1.6 L0 0 L0.95 1.6","size":1600,"filled":true,"fill":"#8caae6","stroke":"#2f3040","strokeWidth":1.2,"opacity":1},
"encoding":{"y":{"field":"p","type":"quantitative","scale":{"type":"log","domain":[78.4,1245000]},"axis":null}}},
{"data":{"name":"tags"},
"mark":{"type":"rect","color":"#5cab85"},
"encoding":{"x2":{"field":"d2"},"y":{"field":"p","type":"quantitative","scale":{"type":"log","domain":[78.4,1245000]},"axis":null},"y2":{"field":"p2"}}},
{"data":{"name":"notes"},
"transform":[{"filter":"datum.kind=='small'"}],
"mark":{"type":"text","fontWeight":"bold","fontSize":8.8,"color":"#333333","baseline":"middle"},
"encoding":{"text":{"field":"t"},"y":{"field":"p","type":"quantitative","scale":{"type":"log","domain":[78.4,1245000]},"axis":null}}},
{"data":{"name":"notes"},
"transform":[{"filter":"datum.kind=='big'"}],
"mark":{"type":"text","fontWeight":"bold","fontSize":10.3,"color":"#24243a","baseline":"middle"},
"encoding":{"text":{"field":"t"},"y":{"field":"p","type":"quantitative","scale":{"type":"log","domain":[78.4,1245000]},"axis":null}}},
{"data":{"name":"info"},
"mark":{"type":"text","fontSize":8.6,"align":"left","baseline":"middle"},
"encoding":{"text":{"field":"t"},"y":{"field":"p","type":"quantitative","scale":{"type":"log","domain":[78.4,1245000]},"axis":null},
"size":{"condition":{"test":"datum.kind=='head'","value":8.95},"value":8.6},
"color":{"field":"kind","type":"nominal","legend":null,"scale":{"domain":["head","label","purple","ohlc","green","blue","red","axis","tag"],"range":["#55524f","#7d7770","#a551a8","#5f7d6a","#76c0a5","#67b0e6","#e86a6a","#8a8078","#d9edd9"]}}}},
{"data":{"values":[{"d":"2016-12-09","p":60,"t":"TradingView"}]},
"mark":{"type":"text","fontSize":9.5,"align":"left","baseline":"middle","color":"#3a3a3a"},
"encoding":{"text":{"field":"t"},"y":{"field":"p","type":"quantitative","scale":{"type":"log","domain":[78.4,1245000]},"axis":null}}},
{"data":{"values":[{"d":"2016-10-29","p":60,"t":"TV"}]},
"mark":{"type":"text","fontSize":11,"fontWeight":"bold","align":"left","baseline":"middle","color":"#222222"},
"encoding":{"text":{"field":"t"},"y":{"field":"p","type":"quantitative","scale":{"type":"log","domain":[78.4,1245000]},"axis":null}}}
],
"resolve":{"scale":{"y":"independent","color":"independent","fill":"independent"},"axis":{"y":"independent"}}
}
